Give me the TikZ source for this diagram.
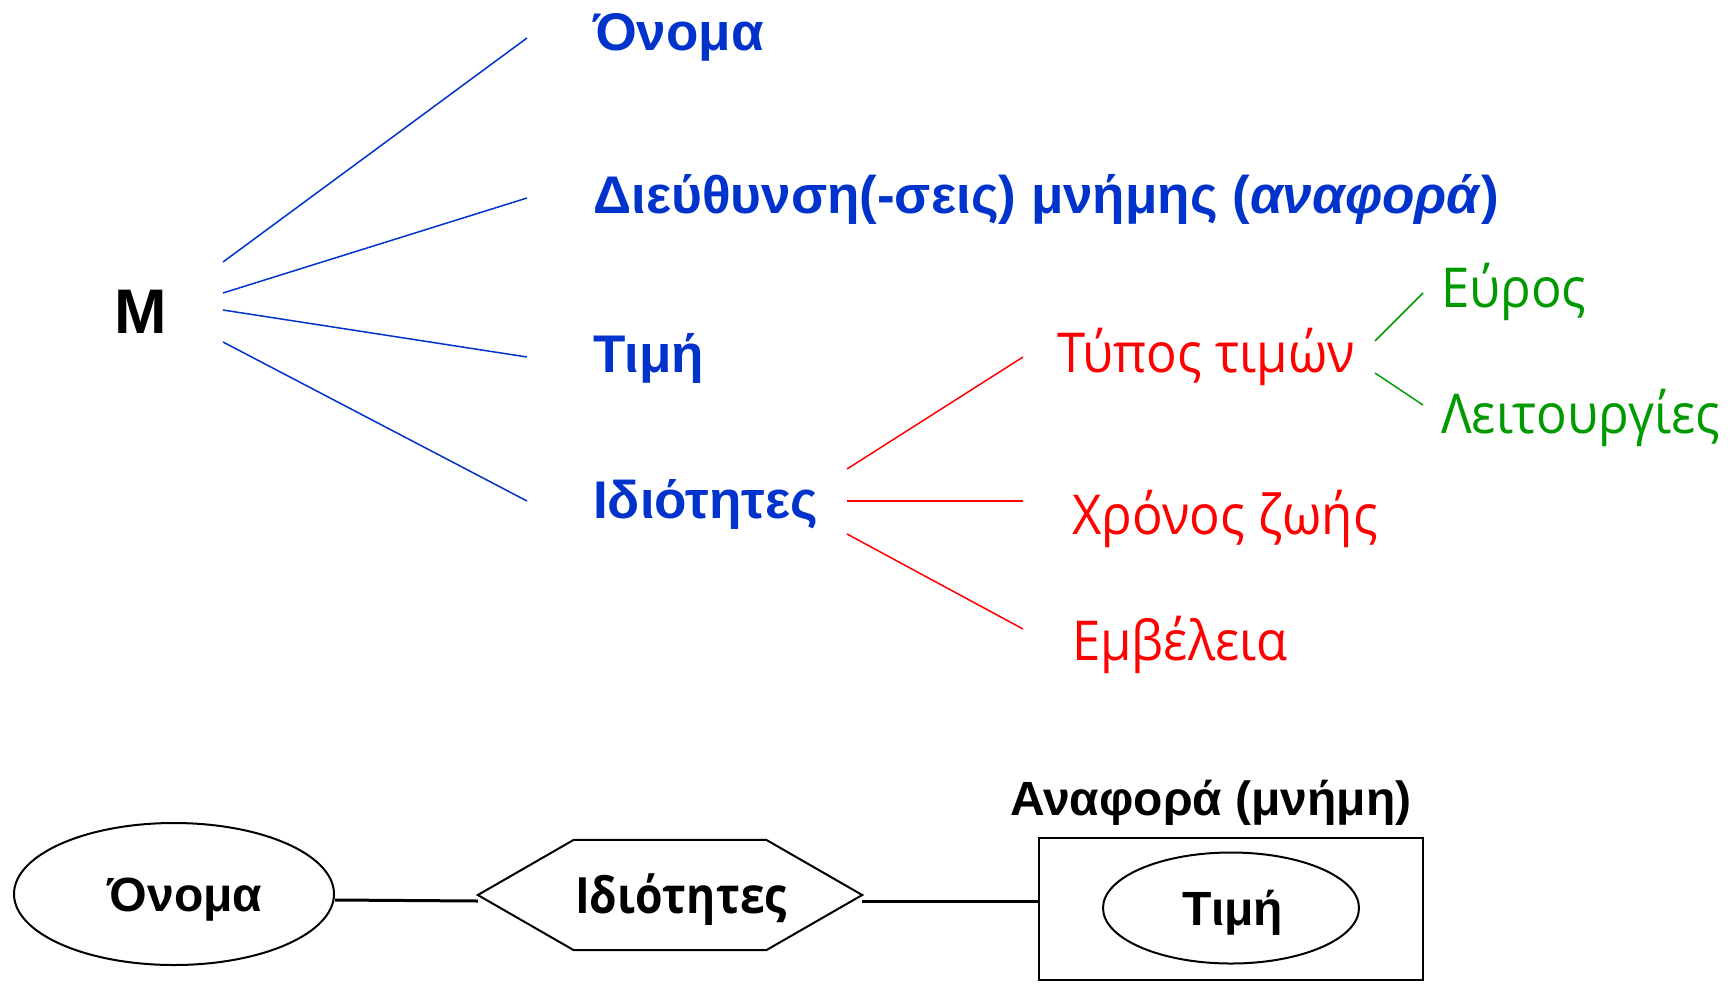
\documentclass[tikz,border=0pt]{standalone}
\usepackage{fontspec}
\setmainfont{Liberation Sans}
\newfontfamily\thinfont[FakeStretch=0.925]{Open Sans}
\newfontfamily\hexfont[FakeStretch=0.89]{Open Sans}
\usetikzlibrary{shapes.geometric,calc}
\definecolor{mblue}{RGB}{0,51,204}
\definecolor{mred}{RGB}{255,0,0}
\definecolor{mgreen}{RGB}{0,153,0}
\begin{document}
\begin{tikzpicture}[x=1pt,y=-1pt,
  bluetext/.style={anchor=base west, inner sep=0pt, text=mblue, font=\fontsize{53}{60}\selectfont\bfseries},
  mtext/.style={anchor=base west, inner sep=0pt, text=black, font=\fontsize{63}{70}\selectfont\bfseries},
  redtext/.style={anchor=base west, inner sep=0pt, text=mred, font=\thinfont\fontsize{55}{60}\selectfont},
  greentext/.style={anchor=base west, inner sep=0pt, text=mgreen, font=\thinfont\fontsize{55}{60}\selectfont},
  blueline/.style={draw=mblue, line width=1.5pt},
  redline/.style={draw=mred, line width=1.5pt},
  greenline/.style={draw=mgreen, line width=1.5pt},
  btext/.style={font=\fontsize{48}{52}\selectfont\bfseries, text height=34pt, text depth=0pt},
  shapeline/.style={draw=black, line width=2pt},
  conn/.style={draw=black, line width=3pt}
]
\useasboundingbox (0,0) rectangle (1731,985);

% upper tree
\node[mtext] (M) at (114,333) {M};
\node[bluetext] (onoma) at (593,50) {Όνομα};
\node[bluetext] (dieuth) at (593,213) {Διεύθυνση(-σεις) μνήμης (\textit{αναφορά})};
\node[bluetext] (timi) at (593,372) {Τιμή};
\node[bluetext] (idiot) at (593,518) {Ιδιότητες};

\draw[blueline] ([shift={(109,-71)}]M.base west) -- ([shift={(-66,-12)}]onoma.base west);
\draw[blueline] ([shift={(109,-40)}]M.base west) -- ([shift={(-66,-15)}]dieuth.base west);
\draw[blueline] ([shift={(109,-23)}]M.base west) -- ([shift={(-66,-15)}]timi.base west);
\draw[blueline] ([shift={(109,9)}]M.base west) -- ([shift={(-66,-17)}]idiot.base west);

\node[redtext] (typos) at (1057,372) {Τύπος τιμών};
\node[redtext] (xronos) at (1072,534) {Χρόνος ζωής};
\node[redtext] (emv) at (1072,660) {Εμβέλεια};

\draw[redline] ([shift={(254,-49)}]idiot.base west) -- ([shift={(-34,-15)}]typos.base west);
\draw[redline] ([shift={(254,-17)}]idiot.base west) -- ([shift={(-49,-33)}]xronos.base west);
\draw[redline] ([shift={(254,16)}]idiot.base west) -- ([shift={(-49,-31)}]emv.base west);

\node[greentext] (evros) at (1441,307) {Εύρος};
\node[greentext] (leit) at (1441,433) {Λειτουργίες};

\draw[greenline] ([shift={(318,-31)}]typos.base west) -- ([shift={(-18,-14)}]evros.base west);
\draw[greenline] ([shift={(318,1)}]typos.base west) -- ([shift={(-18,-28)}]leit.base west);

% lower diagram
\node[ellipse, shapeline, btext, minimum width=320pt, minimum height=142pt, inner sep=0pt] (onoma2) at (174,894) {\hspace*{22pt}Όνομα};
\node[font=\hexfont\fontsize{50}{54}\selectfont\bfseries, text height=36pt, text depth=0pt, inner sep=0pt, minimum width=384pt, minimum height=110pt] (hex) at (670,895) {\hspace*{22pt}Ιδιότητες};
\draw[shapeline] (hex.west) -- ([xshift=96pt]hex.north west) -- ([xshift=-96pt]hex.north east) -- (hex.east) -- ([xshift=-96pt]hex.south east) -- ([xshift=96pt]hex.south west) -- cycle;
\node[shapeline, rectangle, minimum width=384pt, minimum height=142pt, inner sep=0pt] (ref) at (1231,909) {};
\node[ellipse, shapeline, btext, minimum width=256pt, minimum height=111pt, inner sep=0pt] (timi2) at (1231,908) {\hspace*{4pt}Τιμή};
\node[anchor=base, inner sep=0pt, font=\fontsize{48}{52}\selectfont\bfseries] (title) at (1211,815) {Αναφορά (μνήμη)};

\draw[conn] ([yshift=-6pt]onoma2.east) -- ([yshift=-6pt]hex.west);
\draw[conn] ([yshift=-6pt]hex.east) -- ([yshift=-6pt]hex.east -| ref.west);
\end{tikzpicture}
\end{document}
